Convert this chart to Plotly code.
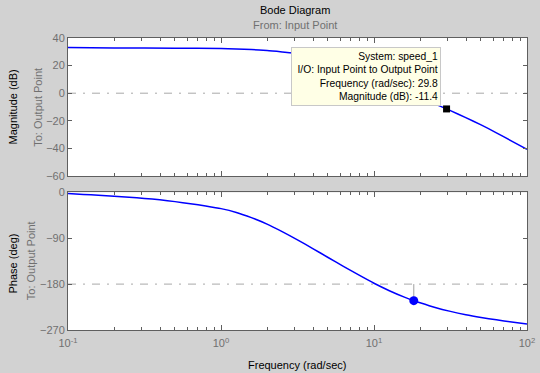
import plotly.graph_objects as go

# ---- data ----
mag_freq = [0.1, 0.2, 0.5, 1.0, 1.26, 1.58, 2.0, 2.51, 3.16, 3.98, 5.01, 6.31, 7.94, 10,
            12.6, 15.8, 20, 25.1, 29.8, 31.6, 39.8, 50.1, 63.1, 79.4, 100]
mag_db = [33.1, 32.8, 32.6, 32.4, 32.1, 31.6, 30.9, 29.9, 28.8, 26.7, 23.4, 19.3, 14.8, 10.3,
          5.8, 1.3, -3.2, -7.9, -11.4, -12.6, -17.7, -23.0, -28.7, -34.7, -40.7]

ph_freq = [0.1, 0.126, 0.158, 0.2, 0.251, 0.316, 0.398, 0.501, 0.631, 0.794, 1.0, 1.26, 1.58,
           2.0, 2.51, 3.16, 3.98, 5.01, 6.31, 7.94, 10, 12.6, 15.8, 18.2, 20, 25.1, 31.6, 39.8,
           50.1, 63.1, 79.4, 100]
ph_deg = [-2.5, -4.1, -5.7, -7.5, -9.6, -12.0, -14.8, -18.3, -22.3, -26.8, -32.0, -39.5, -49.7,
          -62.3, -77.0, -93.2, -110.3, -127.8, -145.2, -162.1, -178.4, -193.0, -205.6, -212.5,
          -216.6, -225.8, -233.5, -240.0, -245.4, -250.1, -254.3, -258.1]

mag_marker_freq = [29.8]
mag_marker_db = [-11.4]
ph_marker_freq = [18.2]
ph_marker_deg = [-212.5]

x_tickvals = [0.1, 1, 10, 100]
x_ticktext = ["10<sup>-1</sup>", "10<sup>0</sup>", "10<sup>1</sup>", "10<sup>2</sup>"]
x_minor = [m * d for d in (0.1, 1, 10) for m in range(2, 10)]
mag_ticks = [40, 20, 0, -20, -40, -60]
ph_ticks = [0, -90, -180, -270]

tooltip_lines = ["System: speed_1", "I/O: Input Point to Output Point",
                 "Frequency (rad/sec): 29.8", "Magnitude (dB): -11.4"]

# ---- style ----
BG = "#d2d2d2"
FRAME = "#5f5f5f"
GREYTXT = "#707070"
FONT = "Liberation Sans, Arial, sans-serif"
L, R, T, B = 68, 13, 38, 43
W, H = 540, 373
PW, PH = W - L - R, H - T - B


def px_x(p):
    return (p - L) / PW


def px_y(p):
    return (H - B - p) / PH


fig = go.Figure()
fig.add_trace(go.Scatter(x=mag_freq, y=mag_db, mode="lines",
                         line=dict(color="#0000ff", width=1.5, shape="spline", smoothing=0.6),
                         xaxis="x", yaxis="y", hoverinfo="skip"))
fig.add_trace(go.Scatter(x=ph_freq, y=ph_deg, mode="lines",
                         line=dict(color="#0000ff", width=1.5, shape="spline", smoothing=0.6),
                         xaxis="x2", yaxis="y2", hoverinfo="skip"))
# data tip on phase: vertical line to -180
fig.add_trace(go.Scatter(x=[ph_marker_freq[0], ph_marker_freq[0]], y=[-180, ph_marker_deg[0]],
                         mode="lines", line=dict(color="#a0a0a0", width=1),
                         xaxis="x2", yaxis="y2", hoverinfo="skip"))
fig.add_trace(go.Scatter(x=ph_marker_freq, y=ph_marker_deg, mode="markers",
                         marker=dict(color="#0000ff", size=9, symbol="circle"),
                         xaxis="x2", yaxis="y2", hoverinfo="skip"))

common_x = dict(type="log", range=[-1, 2], showline=True, linecolor=FRAME, linewidth=1, mirror="ticks",
                ticks="inside", ticklen=5, tickcolor=FRAME, tickvals=x_tickvals, showgrid=False,
                zeroline=False, automargin=False,
                minor=dict(ticks="inside", ticklen=3, tickcolor=FRAME, tickvals=x_minor, showgrid=False))
common_y = dict(showline=True, linecolor=FRAME, linewidth=1, mirror="ticks", ticks="inside", ticklen=4,
                tickcolor=FRAME, showgrid=False, zeroline=False, automargin=False,
                tickfont=dict(family=FONT, size=11, color=GREYTXT))

fig.update_layout(
    width=W, height=H, margin=dict(l=L, r=R, t=T, b=B, autoexpand=False),
    paper_bgcolor=BG, plot_bgcolor="white", showlegend=False,
    font=dict(family=FONT, size=11, color="black"),
    xaxis=dict(common_x, domain=[0, 1], anchor="y", showticklabels=False),
    yaxis=dict(common_y, domain=[px_y(176), 1], anchor="x", range=[-60, 40], tickvals=mag_ticks),
    xaxis2=dict(common_x, domain=[0, 1], anchor="y2", matches="x", ticktext=x_ticktext,
                ticklabelstandoff=3,
                tickfont=dict(family=FONT, size=11, color=GREYTXT)),
    yaxis2=dict(common_y, domain=[0, px_y(192.3)], anchor="x2", range=[-270, 0], tickvals=ph_ticks),
)

# dash-dot reference lines
dash = "8px,7px,2px,7px"
fig.add_shape(type="line", xref="x domain", yref="y", x0=0, x1=1, y0=0, y1=0,
              line=dict(color="#a8a8a8", width=1, dash=dash), layer="below")
fig.add_shape(type="line", xref="x2 domain", yref="y2", x0=0, x1=1, y0=-180, y1=-180,
              line=dict(color="#a8a8a8", width=1, dash=dash), layer="below")

# magnitude data tip marker
fig.add_trace(go.Scatter(x=mag_marker_freq, y=mag_marker_db, mode="markers",
                         marker=dict(color="black", size=7, symbol="square"),
                         xaxis="x", yaxis="y", hoverinfo="skip"))

# texts
ann = []
ann.append(dict(text="Bode Diagram", x=px_x(295), y=px_y(9.5), xref="paper", yref="paper",
                showarrow=False, font=dict(size=11, color="black"), xanchor="center", yanchor="middle"))
ann.append(dict(text="From: Input Point", x=px_x(295), y=px_y(25), xref="paper", yref="paper",
                showarrow=False, font=dict(size=11, color=GREYTXT), xanchor="center", yanchor="middle"))
ann.append(dict(text="Magnitude (dB)", x=px_x(12.5), y=px_y(107), xref="paper", yref="paper",
                showarrow=False, textangle=-90, font=dict(size=11, color="black"),
                xanchor="center", yanchor="middle"))
ann.append(dict(text="To: Output Point", x=px_x(37.8), y=px_y(107), xref="paper", yref="paper",
                showarrow=False, textangle=-90, font=dict(size=11, color=GREYTXT),
                xanchor="center", yanchor="middle"))
ann.append(dict(text="Phase (deg)", x=px_x(12.5), y=px_y(264), xref="paper", yref="paper",
                showarrow=False, textangle=-90, font=dict(size=11, color="black"),
                xanchor="center", yanchor="middle"))
ann.append(dict(text="To: Output Point", x=px_x(31.2), y=px_y(261), xref="paper", yref="paper",
                showarrow=False, textangle=-90, font=dict(size=11, color=GREYTXT),
                xanchor="center", yanchor="middle"))
ann.append(dict(text="Frequency (rad/sec)", x=px_x(297), y=px_y(365), xref="paper", yref="paper",
                showarrow=False, font=dict(size=11, color="black"), xanchor="center", yanchor="middle"))
ann.append(dict(text="<br>".join(tooltip_lines), x=px_x(290.7), y=px_y(46.7), xref="paper", yref="paper",
                showarrow=False, align="right", xanchor="left", yanchor="top",
                bgcolor="#ffffe6", bordercolor="#c8c8c8", borderwidth=1, borderpad=2,
                width=144, height=53, font=dict(size=10.3, color="black")))
fig.update_layout(annotations=ann)

fig.write_html("out.html", config={"displayModeBar": False},
               post_script="document.body.style.margin='0';document.body.style.overflow='hidden';")
